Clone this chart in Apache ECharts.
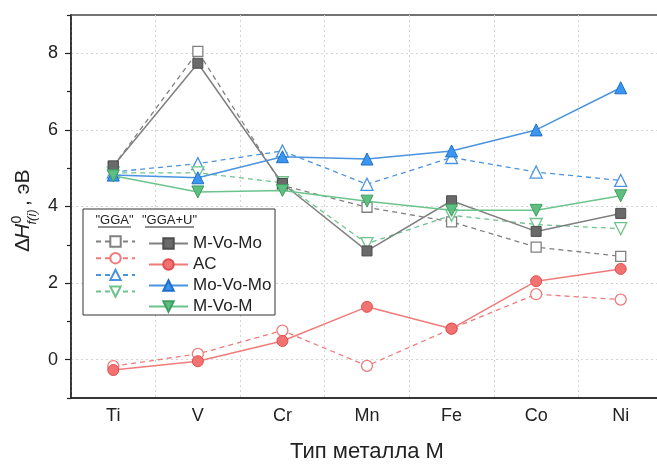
<!DOCTYPE html>
<html><head><meta charset="utf-8">
<script src="https://cdn.jsdelivr.net/npm/echarts@6/dist/echarts.min.js"></script>
<style>html,body{margin:0;padding:0;background:#fff}#c{width:657px;height:464px}</style>
</head><body><div id="c"></div>
<script>
const categories = ['Ti','V','Cr','Mn','Fe','Co','Ni'];
const mvomoGGA  = [5.05, 8.05, 4.55, 3.98, 3.60, 2.94, 2.70];
const mvomoU    = [5.06, 7.74, 4.60, 2.84, 4.15, 3.35, 3.82];
const acGGA     = [-0.17, 0.15, 0.76, -0.16, 0.81, 1.71, 1.57];
const acU       = [-0.27, -0.04, 0.49, 1.38, 0.81, 2.05, 2.37];
const movomoGGA = [4.90, 5.12, 5.45, 4.58, 5.28, 4.90, 4.68];
const movomoU   = [4.82, 4.75, 5.30, 5.24, 5.45, 6.00, 7.10];
const mvomGGA   = [4.88, 4.88, 4.62, 3.03, 3.77, 3.53, 3.42];
const mvomU     = [4.80, 4.38, 4.42, 4.14, 3.90, 3.90, 4.28];
const yMajor = [0, 2, 4, 6, 8];
const yMinor = [-1, 1, 3, 5, 7, 9];
const seriesNames = ['M-Vo-Mo', 'AC', 'Mo-Vo-Mo', 'M-Vo-M'];

const FONT = 'Liberation Sans, Arial, sans-serif';
const colors = {
  gray:  {line: '#808080', fill: '#6a6a6a', edge: '#4d4d4d'},
  red:   {line: '#f07b7b', fill: '#f27272', edge: '#e04f4f'},
  blue:  {line: '#4b93e0', fill: '#3a96f0', edge: '#1e6fc8'},
  green: {line: '#6cc48c', fill: '#5fbf80', edge: '#3f9e60'}
};

function gga(name, data, c, symbol, size, rot) {
  return {
    name: name + ' GGA', type: 'line', data: data, xAxisIndex: 0, yAxisIndex: 0,
    symbol: symbol, symbolSize: size, symbolRotate: rot || 0,
    lineStyle: {color: c.line, width: 1.3, type: [5, 4]},
    itemStyle: {color: '#ffffff', borderColor: c.line, borderWidth: 1.3},
    z: 3
  };
}
function ggau(name, data, c, symbol, size, rot) {
  return {
    name: name, type: 'line', data: data, xAxisIndex: 0, yAxisIndex: 0,
    symbol: symbol, symbolSize: size, symbolRotate: rot || 0,
    lineStyle: {color: c.line, width: 1.5, type: 'solid'},
    itemStyle: {color: c.fill, borderColor: c.edge, borderWidth: 1},
    z: 4
  };
}

const series = [
  gga(seriesNames[0], mvomoGGA, colors.gray, 'rect', 10),
  gga(seriesNames[1], acGGA, colors.red, 'circle', 11),
  gga(seriesNames[2], movomoGGA, colors.blue, 'triangle', 12),
  gga(seriesNames[3], mvomGGA, colors.green, 'triangle', 12, 180),
  ggau(seriesNames[0], mvomoU, colors.gray, 'rect', 10),
  ggau(seriesNames[1], acU, colors.red, 'circle', 11),
  ggau(seriesNames[2], movomoU, colors.blue, 'triangle', 12),
  ggau(seriesNames[3], mvomU, colors.green, 'triangle', 12, 180)
];

const chart = echarts.init(document.getElementById('c'), null, {renderer: 'canvas'});
chart.setOption({
  animation: false,
  backgroundColor: '#fff',
  grid: {left: 71, top: 15, width: 592, height: 383, outerBoundsMode: 'none', containLabel: false,
         show: true, borderColor: '#444', borderWidth: 1.5},
  xAxis: [
    {type: 'category', data: categories, boundaryGap: true, position: 'bottom',
     axisLine: {onZero: false, lineStyle: {color: '#222', width: 1.5}},
     axisTick: {alignWithLabel: true, length: 5, inside: false, lineStyle: {color: '#222', width: 1.2}},
     axisLabel: {fontFamily: FONT, fontSize: 18, color: '#222', margin: 9},
     splitLine: {show: true, interval: 0, lineStyle: {color: '#d4d4d4', type: [2, 3], width: 1}},
     name: 'Тип металла M', nameLocation: 'middle', nameGap: 43,
     nameTextStyle: {fontFamily: FONT, fontSize: 22, color: '#222'}},
    {type: 'category', data: categories, boundaryGap: true, position: 'bottom', offset: 0,
     axisLine: {show: false, onZero: false},
     axisTick: {length: 3, lineStyle: {color: '#222', width: 1.2}},
     axisLabel: {show: false}, splitLine: {show: false}}
  ],
  yAxis: [
    {type: 'value', min: -1, max: 9, position: 'left',
     axisLine: {show: true, onZero: false, lineStyle: {color: '#222', width: 1.5}},
     axisTick: {show: true, length: 6, customValues: yMajor, lineStyle: {color: '#222', width: 1.2}},
     axisLabel: {customValues: yMajor, fontFamily: FONT, fontSize: 18, color: '#222', margin: 13},
     splitLine: {show: true, lineStyle: {color: '#d4d4d4', type: [2, 3], width: 1}}},
    {type: 'value', min: -1, max: 9, position: 'left', offset: 0,
     axisLine: {show: false, onZero: false},
     axisTick: {show: true, length: 4, customValues: yMinor, lineStyle: {color: '#222', width: 1.2}},
     axisLabel: {show: false}, splitLine: {show: false}}
  ],
  legend: [
    {orient: 'vertical', left: 95, top: 235, padding: 0, itemWidth: 39, itemHeight: 13, itemGap: 4,
     data: series.slice(0, 4).map(s => s.name), formatter: () => '',
     textStyle: {fontSize: 1}, selectedMode: false},
    {orient: 'vertical', left: 148, top: 235, padding: 0, itemWidth: 39, itemHeight: 13, itemGap: 4,
     data: series.slice(4).map(s => s.name),
     textStyle: {fontFamily: FONT, fontSize: 17, color: '#222'}, selectedMode: false}
  ],
  graphic: [
    {type: 'rect', shape: {x: 83, y: 209, width: 192, height: 106}, z: 1,
     style: {fill: '#fff', stroke: '#333', lineWidth: 1}},
    {type: 'text', x: 114.5, y: 220, z: 5, style: {text: '"GGA"', font: '13px ' + FONT, fill: '#222', align: 'center', verticalAlign: 'middle'}},
    {type: 'text', x: 169.5, y: 220, z: 5, style: {text: '"GGA+U"', font: '13px ' + FONT, fill: '#222', align: 'center', verticalAlign: 'middle'}},
    {type: 'line', z: 5, shape: {x1: 98, y1: 227, x2: 131, y2: 227}, style: {stroke: '#222', lineWidth: 1}},
    {type: 'line', z: 5, shape: {x1: 145, y1: 227, x2: 194, y2: 227}, style: {stroke: '#222', lineWidth: 1}},
    {type: 'group', x: 34, y: 252, rotation: Math.PI / 2, z: 5, children: [
      {type: 'text', x: 0, y: 0, style: {text: 'Δ', font: '21px ' + FONT, fill: '#222', verticalAlign: 'bottom'}},
      {type: 'text', x: 13, y: 0, style: {text: 'H', font: 'italic 21px ' + FONT, fill: '#222', verticalAlign: 'bottom'}},
      {type: 'text', x: 28.5, y: -10, style: {text: '0', font: '14px ' + FONT, fill: '#222', verticalAlign: 'bottom'}},
      {type: 'text', x: 27.5, y: 5, style: {text: 'f(i)', font: 'italic 13px ' + FONT, fill: '#222', verticalAlign: 'bottom'}},
      {type: 'text', x: 46, y: 0, style: {text: ', эВ', font: '21px ' + FONT, fill: '#222', verticalAlign: 'bottom'}}
    ]}
  ],
  series: series
});
</script></body></html>
